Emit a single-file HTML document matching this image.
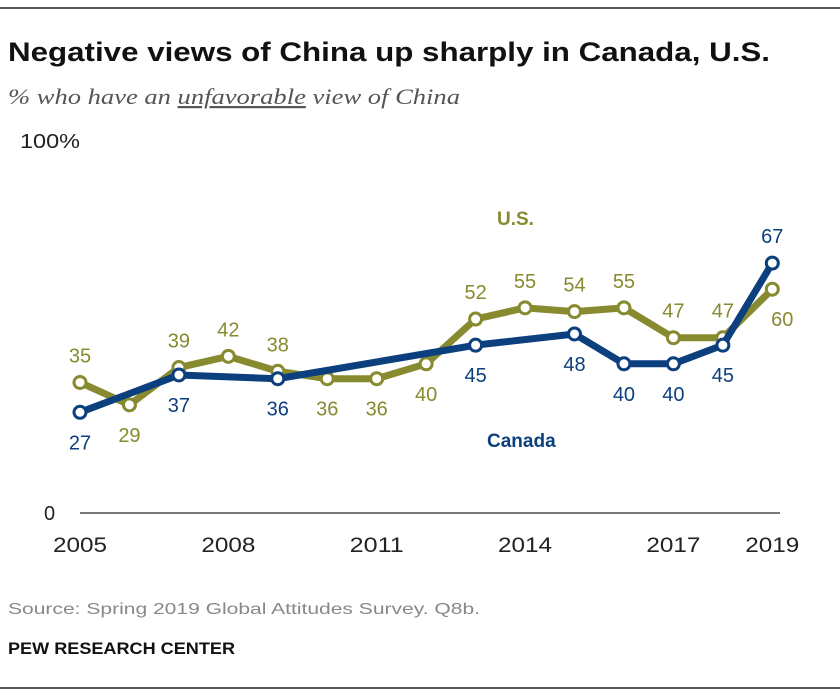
<!DOCTYPE html>
<html><head><meta charset="utf-8"><style>
body{margin:0;background:#fff;width:840px;height:700px;overflow:hidden;font-family:"Liberation Sans",sans-serif}
svg{display:block}
</style></head><body>
<svg id="chart" width="840" height="700" xmlns="http://www.w3.org/2000/svg">
<line x1="0" y1="8" x2="840" y2="8" stroke="#222" stroke-width="1.5"/>
<text x="8" y="61" font-size="27" font-weight="bold" fill="#111" textLength="762" lengthAdjust="spacingAndGlyphs">Negative views of China up sharply in Canada, U.S.</text>
<text x="8" y="104" font-size="22" font-style="italic" font-family="Liberation Serif, serif" fill="#555" textLength="452" lengthAdjust="spacingAndGlyphs">% who have an <tspan text-decoration="underline">unfavorable</tspan> view of China</text>
<text x="20" y="148" font-size="20" fill="#222" textLength="60" lengthAdjust="spacingAndGlyphs">100%</text>
<text x="44" y="520" font-size="20" fill="#222">0</text>
<line x1="80" y1="513" x2="780" y2="513" stroke="#777" stroke-width="2"/>
<g id="xticks"></g>
<g id="series"></g>
<text x="497" y="225" font-size="19" font-weight="bold" fill="#878a2f">U.S.</text>
<text x="487" y="447" font-size="19" font-weight="bold" fill="#0b3f7e">Canada</text>
<text x="8" y="614" font-size="16" fill="#888" textLength="472" lengthAdjust="spacingAndGlyphs">Source: Spring 2019 Global Attitudes Survey. Q8b.</text>
<text x="8" y="654" font-size="17" font-weight="bold" fill="#111" textLength="227" lengthAdjust="spacingAndGlyphs">PEW RESEARCH CENTER</text>
<line x1="0" y1="688" x2="840" y2="688" stroke="#222" stroke-width="1.5"/>
</svg>
<script>
const xTickYears=[2005,2008,2011,2014,2017,2019];
const usYears=[2005,2006,2007,2008,2009,2010,2011,2012,2013,2014,2015,2016,2017,2018,2019];
const usValues=[35,29,39,42,38,36,36,40,52,55,54,55,47,47,60];
const usLabelBelow=[0,1,0,0,0,1,1,1,0,0,0,0,0,0,1];
const caYears=[2005,2007,2009,2013,2015,2016,2017,2018,2019];
const caValues=[27,37,36,45,48,40,40,45,67];
const caLabelBelow=[1,1,1,1,1,1,1,1,0];
const NS="http://www.w3.org/2000/svg";
const x=y=>80+(y-2005)*49.45;
const yv=v=>513-v*3.73;
const tk=document.getElementById('xticks');
xTickYears.forEach(yr=>{const t=document.createElementNS(NS,'text');
t.setAttribute('x',x(yr));t.setAttribute('y',552);t.setAttribute('font-size','21');t.setAttribute('text-anchor','middle');t.setAttribute('fill','#222');
t.setAttribute('textLength','54');t.setAttribute('lengthAdjust','spacingAndGlyphs');


t.textContent=yr;tk.appendChild(t);});
const g=document.getElementById('series');
function draw(years,vals,below,color,name,special){
 const p=document.createElementNS(NS,'polyline');
 p.setAttribute('points',years.map((yr,i)=>x(yr)+','+yv(vals[i])).join(' '));
 p.setAttribute('fill','none');p.setAttribute('stroke',color);p.setAttribute('stroke-width','7');p.setAttribute('stroke-linejoin','round');
 
 
 g.appendChild(p);
 years.forEach((yr,i)=>{
  const c=document.createElementNS(NS,'circle');
  c.setAttribute('cx',x(yr));c.setAttribute('cy',yv(vals[i]));c.setAttribute('r','6');c.setAttribute('fill','#fff');c.setAttribute('stroke',color);c.setAttribute('stroke-width','3');
  
  
  g.appendChild(c);
  const t=document.createElementNS(NS,'text');
  let lx=x(yr),ly=below[i]?yv(vals[i])+37:yv(vals[i])-20;
  if(special&&yr===2019){lx+=10;}
  t.setAttribute('x',lx);t.setAttribute('y',ly);t.setAttribute('font-size','20');t.setAttribute('text-anchor','middle');t.setAttribute('fill',color);
  
  
  t.textContent=vals[i];g.appendChild(t);
 });
}
draw(usYears,usValues,usLabelBelow,'#878a2f','us',true);
draw(caYears,caValues,caLabelBelow,'#0b3f7e','canada',false);
</script>
</body></html>
